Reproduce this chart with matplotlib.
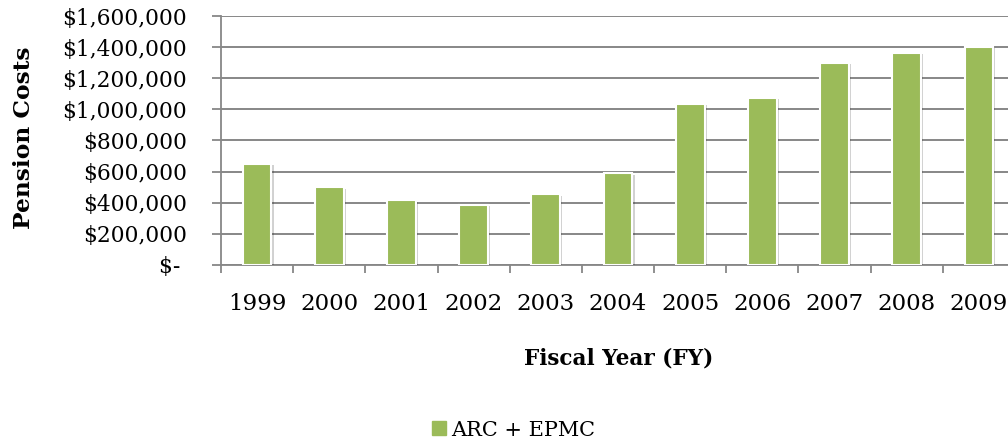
import matplotlib
matplotlib.use("Agg")
import matplotlib.pyplot as plt
import matplotlib.patheffects as pe
from matplotlib.ticker import FuncFormatter, FixedLocator
from matplotlib.lines import Line2D

years = ["1999", "2000", "2001", "2002", "2003", "2004", "2005", "2006", "2007", "2008", "2009"]
costs = [650000, 498000, 416000, 388000, 455000, 590000, 1036000, 1073000, 1298000, 1362000, 1401000]
series_name = "ARC + EPMC"
y_ticks = [0, 200000, 400000, 600000, 800000, 1000000, 1200000, 1400000, 1600000]

plt.rcParams['font.family'] = ['DejaVu Serif']

fig = plt.figure(figsize=(10.08, 4.42), dpi=100)
ax = fig.add_axes([0.2192, 0.4005, 0.7878, 0.5633])

gray = "#878787"
green = "#9BBB59"

x = list(range(len(years)))
bars = ax.bar(x, costs, width=0.4, color=green, edgecolor="white", linewidth=1.5, zorder=3)
for b in bars:
    b.set_path_effects([pe.SimplePatchShadow(offset=(1.5, -1), shadow_rgbFace="#000000", alpha=0.18),
                        pe.Normal()])

ax.set_xlim(-0.5, len(years) - 0.5)
ax.set_ylim(0, 1600000)
ax.set_yticks(y_ticks)

def fmt(v, pos):
    if v == 0:
        return "$- "
    return "${:,.0f}".format(v)

ax.yaxis.set_major_formatter(FuncFormatter(fmt))
ax.grid(axis="y", color=gray, linewidth=1.4, zorder=0)
ax.set_axisbelow(True)

ax.xaxis.set_major_locator(FixedLocator([i - 0.5 for i in range(len(years) + 1)]))
ax.xaxis.set_major_formatter(FuncFormatter(lambda v, p: ""))
ax.xaxis.set_minor_locator(FixedLocator(x))
ax.set_xticklabels(years, minor=True)
ax.tick_params(axis="x", which="major", length=6, width=1.3, color=gray, direction="out")
ax.tick_params(axis="x", which="minor", length=0, labelsize=16.5, pad=20)
ax.tick_params(axis="y", length=6.5, width=1.3, color=gray, direction="out", labelsize=15.7, pad=18)

for s in ["top", "right"]:
    ax.spines[s].set_visible(False)
for s in ["left", "bottom"]:
    ax.spines[s].set_color(gray)
    ax.spines[s].set_linewidth(1.3)

fig.text(0.024, 0.689, "Pension Costs", rotation=90, ha="center", va="center",
         fontsize=16.8, fontweight="bold")
fig.text(0.6136, 0.19, "Fiscal Year (FY)", ha="center", va="center",
         fontsize=15.5, fontweight="bold")

handle = Line2D([], [], marker="s", linestyle="none", markersize=10,
                markerfacecolor=green, markeredgecolor=green)
fig.legend([handle], [series_name], loc="center", bbox_to_anchor=(0.509, 0.027),
           frameon=False, fontsize=15, handletextpad=0.2, handlelength=0.8)

fig.savefig("out.png", dpi=100)
